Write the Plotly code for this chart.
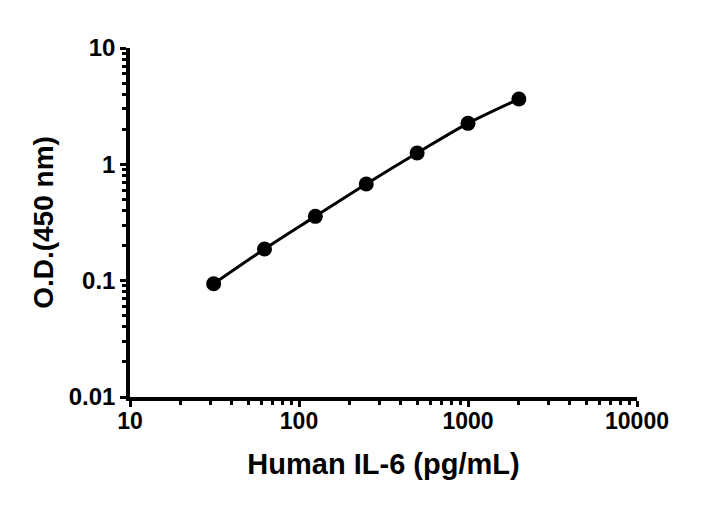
import plotly.graph_objects as go

# standard curve data
conc = [31.25, 62.5, 125, 250, 500, 1000, 2000]
od = [0.094, 0.187, 0.357, 0.677, 1.25, 2.25, 3.64]

x_ticks = [10, 100, 1000, 10000]
x_labels = ['10', '100', '1000', '10000']
y_ticks = [0.01, 0.1, 1, 10]
y_labels = ['0.01', '0.1', '1', '10']

font_name = 'Liberation Sans'

fig = go.Figure()
fig.add_trace(go.Scatter(
    x=conc, y=od, mode='lines+markers',
    line=dict(color='black', width=3, shape='spline'),
    marker=dict(color='black', size=15),
    showlegend=False,
))

minor_x = [m * 10 ** d for d in range(1, 4) for m in range(2, 10)]
minor_y = [m * 10 ** d for d in range(-2, 1) for m in range(2, 10)]

fig.update_xaxes(
    type='log', range=[1, 4],
    tickvals=x_ticks, ticktext=x_labels,
    ticks='outside', ticklen=6, tickwidth=3, tickcolor='black',
    ticklabelstandoff=-5,
    showline=True, linewidth=3.5, linecolor='black',
    showgrid=False, zeroline=False,
    minor=dict(tickvals=minor_x, ticks='outside', ticklen=4, tickwidth=2.5, tickcolor='black', showgrid=False),
    tickfont=dict(family=font_name, size=23, color='black', weight='bold'),
    title=dict(text='<b>Human IL-6 (pg/mL)</b>', font=dict(family=font_name, size=29, color='black'), standoff=21),
)
fig.update_yaxes(
    type='log', range=[-2, 1],
    tickvals=y_ticks, ticktext=y_labels,
    ticks='outside', ticklen=6, tickwidth=3, tickcolor='black',
    showline=True, linewidth=3.5, linecolor='black',
    showgrid=False, zeroline=False,
    minor=dict(tickvals=minor_y, ticks='outside', ticklen=4, tickwidth=2.5, tickcolor='black', showgrid=False),
    tickfont=dict(family=font_name, size=24, color='black', weight='bold'),
    title=dict(text='<b>O.D.(450 nm)</b>', font=dict(family=font_name, size=28, color='black'), standoff=8),
)
fig.update_layout(
    width=711, height=499,
    margin=dict(l=122, r=82, t=40, b=110),
    plot_bgcolor='white', paper_bgcolor='white',
)

fig.write_html('out.html')
